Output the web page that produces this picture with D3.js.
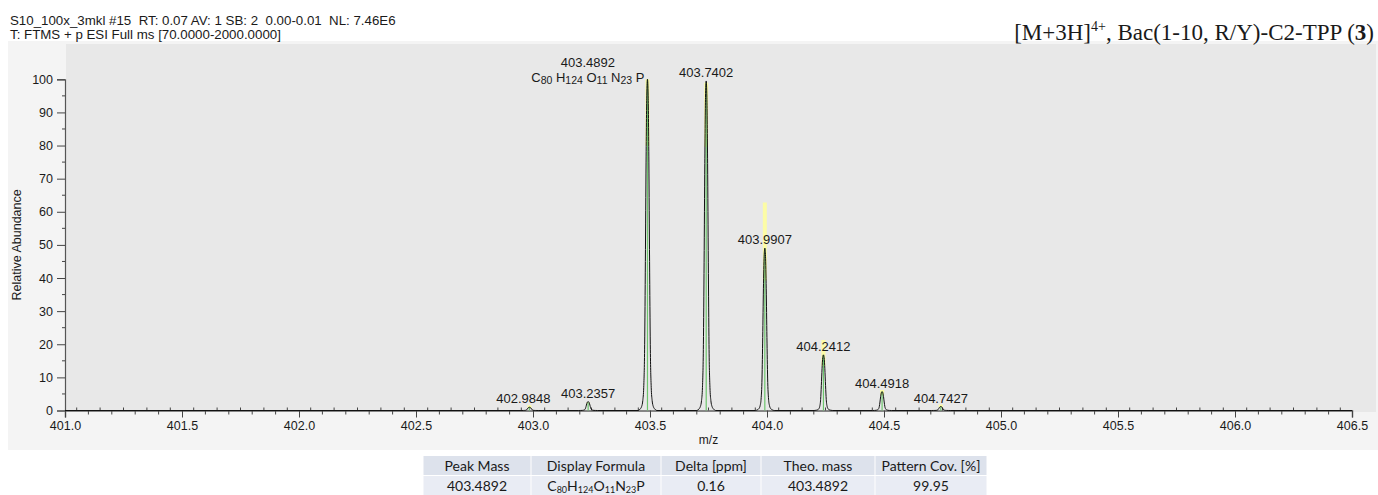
<!DOCTYPE html>
<html>
<head>
<meta charset="utf-8">
<script src="https://cdn.jsdelivr.net/npm/d3@7"></script>
<style>
  html, body { margin: 0; padding: 0; background: #ffffff; }
  svg { display: block; }
  text { font-family: "Liberation Sans", Arial, sans-serif; fill: #1a1a1a; }
</style>
</head>
<body>
<svg id="chart" width="1378" height="495"></svg>
<script>
// ---- spectrum data ----
const peakMz        = [402.9848, 403.2357, 403.4892, 403.7402, 403.9907, 404.2412, 404.4918, 404.7427];
const peakAbundance = [1.0, 2.7, 100, 99.5, 49.0, 16.8, 5.7, 1.2];
// simulated isotope pattern (relative intensity of each isotope)
const theoAbundance = [1.6, 2.4, 100, 99.0, 62.8, 21.3, 6.2, 1.8];
// shape of one profile peak: offset from centre (m/z) and fraction of apex height
const shapeOffset = [-0.040, -0.032, -0.025, -0.020, -0.016, -0.012, -0.009, -0.006, -0.003, 0,
                     0.003, 0.006, 0.009, 0.012, 0.016, 0.020, 0.025, 0.032, 0.040];
const shapeLevel  = [0, 0.004, 0.012, 0.03, 0.07, 0.2, 0.45, 0.75, 0.95, 1,
                     0.95, 0.75, 0.45, 0.2, 0.07, 0.03, 0.012, 0.004, 0];
const mzDomain  = [401.0, 406.5];
const yTicks    = [0, 10, 20, 30, 40, 50, 60, 70, 80, 90, 100];
const xTicks    = [401.0, 401.5, 402.0, 402.5, 403.0, 403.5, 404.0, 404.5, 405.0, 405.5, 406.0, 406.5];

// ---- header / table text ----
const headerLines = [
  "S10_100x_3mkl #15  RT: 0.07 AV: 1 SB: 2  0.00-0.01  NL: 7.46E6",
  "T: FTMS + p ESI Full ms [70.0000-2000.0000]"
];
const tableHeaders = ["Peak Mass", "Display Formula", "Delta [ppm]", "Theo. mass", "Pattern Cov. [%]"];
const tableRow     = ["403.4892", "FORMULA", "0.16", "403.4892", "99.95"];
const formulaParts = [["C", "80"], ["H", "124"], ["O", "11"], ["N", "23"], ["P", ""]];

const svg = d3.select("#chart");

// background panels
svg.append("rect").attr("x", 0).attr("y", 0).attr("width", 1378).attr("height", 495).attr("fill", "#ffffff");
svg.append("rect").attr("x", 8).attr("y", 41).attr("width", 1370).attr("height", 409).attr("fill", "#f4f4f4");
svg.append("rect").attr("x", 66).attr("y", 44).attr("width", 1310).attr("height", 368).attr("fill", "#e8e8e8");

const x = d3.scaleLinear().domain(mzDomain).range([65, 1352]);
const y = d3.scaleLinear().domain([0, 100]).range([410.5, 79.3]);

// header lines (keep the double spaces)
headerLines.forEach((t, i) => {
  svg.append("text").attr("x", 10).attr("y", 25 + i * 14)
    .attr("font-size", 13.3).style("white-space", "pre").text(t);
});

// title with superscript and bold compound number
const title = svg.append("text").attr("x", 1374).attr("y", 40)
  .attr("text-anchor", "end")
  .style("font-family", "'Liberation Serif', 'Times New Roman', serif")
  .attr("font-size", 23);
title.append("tspan").text("[M+3H]");
title.append("tspan").attr("font-size", 14).attr("dy", -9).text("4+");
title.append("tspan").attr("dy", 9).text(", Bac(1-10, R/Y)-C2-TPP (");
title.append("tspan").attr("font-weight", "bold").text("3");
title.append("tspan").text(")");

// ---- axes ----
const yAxis = d3.axisLeft(y).tickValues(yTicks).tickSize(8).tickPadding(4).tickFormat(d3.format("d"));
const gy = svg.append("g").attr("transform", "translate(65,0)").call(yAxis);
gy.select(".domain").attr("stroke", "#555").attr("stroke-width", 1.2);
gy.selectAll(".tick line").attr("stroke", "#444");
gy.selectAll(".tick text").attr("font-size", 12.5).attr("fill", "#1a1a1a")
  .style("font-family", "'Liberation Sans', Arial, sans-serif");
const yMinor = d3.range(5, 100, 10);
svg.append("g").selectAll("line").data(yMinor).join("line")
  .attr("x1", 62).attr("x2", 65).attr("y1", d => y(d)).attr("y2", d => y(d))
  .attr("stroke", "#444");

const xAxis = d3.axisBottom(x).tickValues(xTicks).tickSize(7).tickPadding(4).tickFormat(d3.format(".1f"));
const gx = svg.append("g").attr("transform", `translate(0,${y(0)})`).call(xAxis);
gx.select(".domain").attr("stroke", "#666").attr("stroke-width", 1.5);
gx.selectAll(".tick line").attr("stroke", "#444");
gx.selectAll(".tick text").attr("font-size", 12.5).attr("fill", "#1a1a1a")
  .style("font-family", "'Liberation Sans', Arial, sans-serif");

// minor x ticks: every 0.1 downward, every odd 0.05 upward
const minorX = d3.range(1, 110).map(i => 401 + i * 0.05).filter(v => Math.abs((v - 401) / 0.5 - Math.round((v - 401) / 0.5)) > 1e-6);
svg.append("g").selectAll("line").data(minorX).join("line")
  .attr("x1", d => x(d)).attr("x2", d => x(d))
  .attr("y1", y(0))
  .attr("y2", d => (Math.round((d - 401) / 0.05) % 2 === 0) ? y(0) + 4 : y(0) - 3)
  .attr("stroke", "#444");

// axis titles
svg.append("text").attr("x", x(403.75)).attr("y", 444).attr("text-anchor", "middle")
  .attr("font-size", 12).text("m/z");
svg.append("text").attr("transform", `translate(21,${(y(0) + y(100)) / 2}) rotate(-90)`)
  .attr("text-anchor", "middle").attr("font-size", 12.5).text("Relative Abundance");

// ---- simulated pattern: yellow bar tops and green centroid sticks ----
const peaks = peakMz.map((mz, i) => ({ mz, ab: peakAbundance[i], th: theoAbundance[i] }));
svg.append("g").selectAll("rect").data(peaks).join("rect")
  .attr("x", d => x(d.mz) - 2).attr("width", 4)
  .attr("y", d => y(d.th)).attr("height", d => y(d.ab * 0.8) - y(d.th))
  .attr("fill", "#ffff9a").attr("opacity", 0.85);
svg.append("g").selectAll("line").data(peaks).join("line")
  .attr("x1", d => x(d.mz)).attr("x2", d => x(d.mz))
  .attr("y1", y(0)).attr("y2", d => y(Math.min(d.th, d.ab)))
  .attr("stroke", "#6cc46c").attr("stroke-width", 1.2);

// ---- profile spectrum ----
const profile = [{ mz: mzDomain[0], v: 0 }];
peaks.forEach(p => {
  shapeOffset.forEach((o, k) => profile.push({ mz: p.mz + o, v: p.ab * shapeLevel[k] }));
});
profile.push({ mz: mzDomain[1], v: 0 });
const line = d3.line().x(d => x(d.mz)).y(d => y(d.v)).curve(d3.curveMonotoneX);
svg.append("path").datum(profile).attr("d", line)
  .attr("fill", "none").attr("stroke", "#111").attr("stroke-width", 1);

// writes a chemical formula into a text element with lowered subscripts
function writeFormula(textSel, subSize, shift, spaced) {
  let lowered = false;
  formulaParts.forEach(([el, n], i) => {
    textSel.append("tspan").attr("dy", lowered ? -shift : 0).text((spaced && i ? " " : "") + el);
    lowered = false;
    if (n) {
      textSel.append("tspan").attr("font-size", subSize).attr("dy", shift).text(n);
      lowered = true;
    }
  });
}

// ---- peak labels ----
const labelNudge = { 0: -6 };
peaks.forEach((p, i) => {
  if (i === 2) return;
  svg.append("text").attr("x", x(p.mz) + (labelNudge[i] || 0)).attr("y", y(p.ab) - 4)
    .attr("text-anchor", "middle").attr("font-size", 13).text(d3.format(".4f")(p.mz));
});
// base peak: mass over formula, block ends at the peak
const bp = peaks[2];
const fml = svg.append("text").attr("x", x(bp.mz) - 3).attr("y", y(bp.ab) + 3)
  .attr("text-anchor", "end").attr("font-size", 13).style("white-space", "pre");
writeFormula(fml, 10.5, 2, true);
const fb = fml.node().getBBox();
svg.append("text").attr("x", fb.x + fb.width / 2).attr("y", y(bp.ab) - 12)
  .attr("text-anchor", "middle").attr("font-size", 13).text(d3.format(".4f")(bp.mz));

// ---- results table ----
const colEdges = [423, 531, 661, 761, 875, 987];
const rowTop = [456, 476], rowH = 19;
const tg = svg.append("g");
[0, 1].forEach(r => {
  for (let c = 0; c < 5; c++) {
    tg.append("rect").attr("x", colEdges[c] + 0.5).attr("y", rowTop[r])
      .attr("width", colEdges[c + 1] - colEdges[c] - 1).attr("height", rowH)
      .attr("fill", r === 0 ? "#dde2ec" : "#e9ecf4");
    const cx = (colEdges[c] + colEdges[c + 1]) / 2;
    const t = tg.append("text").attr("x", cx).attr("y", rowTop[r] + 14.5)
      .attr("text-anchor", "middle").attr("font-size", 14)
      .style("font-family", "Lato, 'Open Sans', sans-serif");
    const val = r === 0 ? tableHeaders[c] : tableRow[c];
    if (val === "FORMULA") {
      writeFormula(t, 9, 2.5, false);
    } else {
      t.text(val);
    }
  }
});
</script>
</body>
</html>
